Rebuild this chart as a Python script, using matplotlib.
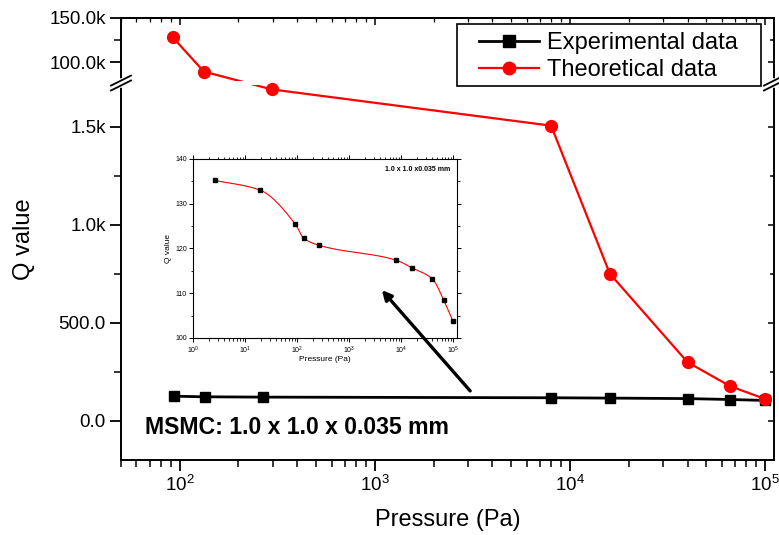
import numpy as np
import matplotlib
matplotlib.use('Agg')
import matplotlib.pyplot as plt
from matplotlib.lines import Line2D
from matplotlib.patches import FancyArrowPatch, Rectangle
from matplotlib.ticker import FixedLocator, FixedFormatter, NullFormatter
from matplotlib.transforms import blended_transform_factory

plt.rcParams['font.family'] = ['Liberation Sans', 'DejaVu Sans']

# ---------------- data ----------------
exp_pressure = [93, 134, 268, 8000, 16000, 40000, 66000, 100000]
exp_q = [125.4, 122.3, 120.7, 117.4, 115.7, 113.2, 108.5, 103.7]
theo_pressure = [92, 133, 296, 8000, 16000, 40000, 66000, 100000]
theo_q = [128300, 89500, 1690, 1505, 750, 299, 177, 111]
inset_pressure = [2.7, 19, 93, 134, 268, 8000, 16000, 40000, 66000, 100000]
inset_q = [135.2, 133.1, 125.4, 122.3, 120.7, 117.4, 115.7, 113.2, 108.5, 103.7]

y_ticks = [0, 500, 1000, 1500, 100000, 150000]
y_tick_labels = ['0.0', '500.0', '1.0k', '1.5k', '100.0k', '150.0k']
y_minor = [250, 750, 1250, 125000]
x_ticks = [1e2, 1e3, 1e4, 1e5]
x_tick_labels = [r'$\mathregular{10^{2}}$', r'$\mathregular{10^{3}}$',
                 r'$\mathregular{10^{4}}$', r'$\mathregular{10^{5}}$']
inset_x_ticks = [1e0, 1e1, 1e2, 1e3, 1e4, 1e5]
inset_x_labels = [r'$\mathregular{10^{%d}}$' % i for i in range(6)]
inset_y_ticks = [100, 110, 120, 130, 140]

# ---------------- broken y scale ----------------
L_TOP = 1710.0
GAP_T = 25.0
U_BOT = 79400.0
K = 0.00452


def fwd(y):
    y = np.asarray(y, dtype=float)
    mid = L_TOP + (y - L_TOP) * GAP_T / (U_BOT - L_TOP)
    up = L_TOP + GAP_T + (y - U_BOT) * K
    return np.where(y <= L_TOP, y, np.where(y >= U_BOT, up, mid))


def inv(t):
    t = np.asarray(t, dtype=float)
    mid = L_TOP + (t - L_TOP) * (U_BOT - L_TOP) / GAP_T
    up = U_BOT + (t - L_TOP - GAP_T) / K
    return np.where(t <= L_TOP, t, np.where(t >= L_TOP + GAP_T, up, mid))


W, H = 779, 535
fig = plt.figure(figsize=(W / 100, H / 100), dpi=100)
L, R, T, B = 121, 774, 18, 460
ax = fig.add_axes([L / W, (H - B) / H, (R - L) / W, (B - T) / H])
ax.set_xscale('log')
ax.set_yscale('function', functions=(fwd, inv))
ax.set_xlim(50, 111000)
ax.set_ylim(-200, 150000)

ax.plot(exp_pressure, exp_q, color='black', lw=2.0, zorder=2)
ax.plot(theo_pressure, theo_q, color='red', lw=1.6, zorder=2)
ax.axhspan(L_TOP, U_BOT, color='white', zorder=2.2, lw=0)
ax.plot(exp_pressure, exp_q, ls='none', marker='s', ms=7, color='black', zorder=3)
ax.plot(theo_pressure, theo_q, ls='none', marker='o', ms=8.5, color='red', zorder=3)

ax.yaxis.set_major_locator(FixedLocator(y_ticks))
ax.yaxis.set_major_formatter(FixedFormatter(y_tick_labels))
ax.yaxis.set_minor_locator(FixedLocator(y_minor))
ax.yaxis.set_minor_formatter(NullFormatter())
ax.xaxis.set_major_locator(FixedLocator(x_ticks))
ax.xaxis.set_major_formatter(FixedFormatter(x_tick_labels))
minors = [m * 10 ** d for d in range(1, 5) for m in range(2, 10)]
ax.xaxis.set_minor_locator(FixedLocator([v for v in minors if 50 <= v <= 111000]))
ax.xaxis.set_minor_formatter(NullFormatter())

for s in ax.spines.values():
    s.set_linewidth(1.4)
ax.tick_params(which='major', direction='out', length=8, width=1.3, labelsize=13.5,
               top=False, right=False, pad=3)
ax.tick_params(which='minor', direction='out', length=5, width=1.1, top=False, right=False)
# mirrored inward ticks on top and right
ax_top = ax.secondary_xaxis('top')
ax_top.set_xticks(x_ticks)
ax_top.xaxis.set_minor_locator(FixedLocator([v for v in minors if 50 <= v <= 111000]))
ax_top.tick_params(which='major', direction='in', length=5, width=1.1, labeltop=False)
ax_top.tick_params(which='minor', direction='in', length=3, width=0.9)
ax_top.xaxis.set_major_formatter(NullFormatter())
ax_top.xaxis.set_minor_formatter(NullFormatter())
ax_top.spines['top'].set_linewidth(1.4)

ax.set_xlabel('Pressure (Pa)', fontsize=17, labelpad=10)
ax.set_ylabel('Q value', fontsize=17, labelpad=10)

# right axis ticks (inward)
for yv, ln in [(v, 6) for v in y_ticks] + [(v, 4) for v in y_minor]:
    ax.plot([1], [yv], transform=blended_transform_factory(ax.transAxes, ax.transData),
            marker=[(0, 0), (-1, 0)], ms=ln * 0.72 * 2, mew=1.1, color='black',
            clip_on=False, zorder=5, ls='none')

# legend: frame drawn separately for the wide padding of the original
frame = Rectangle((457 / W, (H - 86) / H), 304 / W, 62 / H, transform=fig.transFigure,
                  facecolor='white', edgecolor='black', lw=1.2, zorder=4, clip_on=False)
ax.add_artist(frame)
handles = [Line2D([], [], color='black', lw=2.0, marker='s', ms=8),
           Line2D([], [], color='red', lw=1.6, marker='o', ms=9)]
leg = ax.legend(handles, ['Experimental data', 'Theoretical data'],
                loc='upper left', bbox_to_anchor=((479 - L) / (R - L), (B - 32) / (B - T)),
                fontsize=17, frameon=False,
                handlelength=2.55, labelspacing=0.22, borderpad=0, handletextpad=0.35,
                borderaxespad=0)
leg.set_zorder(5)

ax.text((145 - L) / (R - L), (B - 428) / (B - T), 'MSMC: 1.0 x 1.0 x 0.035 mm',
        transform=ax.transAxes, fontsize=16.6, fontweight='bold', va='center', ha='left')

# break marks
bt = blended_transform_factory(ax.transAxes, ax.transData)
inv_fig = fig.transFigure.inverted()
for xa in (0, 1):
    xlo, ylo = bt.transform((xa, L_TOP))
    _, yhi = bt.transform((xa, U_BOT))
    p1 = inv_fig.transform((xlo, ylo))
    p2 = inv_fig.transform((xlo, yhi))
    fig.add_artist(Line2D([p1[0], p2[0]], [p1[1], p2[1]], color='white', lw=4,
                          transform=fig.transFigure, zorder=10))
    for yd in (ylo, yhi):
        a = inv_fig.transform((xlo - 10, yd - 5))
        b = inv_fig.transform((xlo + 10, yd + 5))
        fig.add_artist(Line2D([a[0], b[0]], [a[1], b[1]], color='black', lw=1.3,
                              transform=fig.transFigure, zorder=11))

# ---------------- inset ----------------
iL, iR, iT, iB = 193, 457, 159, 338
axi = fig.add_axes([iL / W, (H - iB) / H, (iR - iL) / W, (iB - iT) / H])
axi.set_xscale('log')
axi.set_xlim(1, 1.19e5)
axi.set_ylim(100, 140)

# smooth monotone curve (PCHIP in log-pressure) through inset data
lx = np.log10(inset_pressure)
yv = np.asarray(inset_q, dtype=float)
h = np.diff(lx)
dlt = np.diff(yv) / h
m = np.zeros_like(yv)
m[0], m[-1] = dlt[0], dlt[-1]
for i in range(1, len(yv) - 1):
    if dlt[i - 1] * dlt[i] > 0:
        w1 = 2 * h[i] + h[i - 1]
        w2 = h[i] + 2 * h[i - 1]
        m[i] = (w1 + w2) / (w1 / dlt[i - 1] + w2 / dlt[i])
xs, ys = [], []
for i in range(len(h)):
    tt = np.linspace(0, 1, 40)
    h00 = 2 * tt**3 - 3 * tt**2 + 1
    h10 = tt**3 - 2 * tt**2 + tt
    h01 = -2 * tt**3 + 3 * tt**2
    h11 = tt**3 - tt**2
    xs.extend(lx[i] + tt * h[i])
    ys.extend(h00 * yv[i] + h10 * h[i] * m[i] + h01 * yv[i + 1] + h11 * h[i] * m[i + 1])
axi.plot(10 ** np.array(xs), ys, color='red', lw=0.8)
axi.plot(inset_pressure, inset_q, ls='none', marker='s', ms=3.2, color='black')

axi.xaxis.set_major_locator(FixedLocator(inset_x_ticks))
axi.xaxis.set_major_formatter(FixedFormatter(inset_x_labels))
imin = [mm * 10 ** d for d in range(0, 5) for mm in range(2, 10)]
axi.xaxis.set_minor_locator(FixedLocator(imin))
axi.xaxis.set_minor_formatter(NullFormatter())
axi.yaxis.set_major_locator(FixedLocator(inset_y_ticks))
axi.yaxis.set_minor_locator(FixedLocator([105, 115, 125, 135]))
axi.yaxis.set_minor_formatter(NullFormatter())
axi.tick_params(which='major', direction='out', length=3, width=0.7, labelsize=5, pad=1.5)
axi.tick_params(which='minor', direction='out', length=1.8, width=0.6)
axi.tick_params(which='both', top=True, right=True)
for s in axi.spines.values():
    s.set_linewidth(0.8)
axi.set_xlabel('Pressure (Pa)', fontsize=6, labelpad=0.5)
axi.set_ylabel('Q value', fontsize=6, labelpad=2)
axi.text(0.975, 0.94, '1.0 x 1.0 x0.035 mm', transform=axi.transAxes, fontsize=5,
         fontweight='bold', ha='right', va='center')

# arrow (on top of the inset)
p_head = inv_fig.transform(ax.transAxes.transform(((380 - L) / (R - L), (B - 288) / (B - T))))
p_tail = inv_fig.transform(ax.transAxes.transform(((472 - L) / (R - L), (B - 393) / (B - T))))
arr = FancyArrowPatch(p_tail, p_head, transform=fig.transFigure, arrowstyle='-|>',
                      mutation_scale=14, lw=2.4, color='black', zorder=12)
fig.add_artist(arr)

fig.savefig('out.png', dpi=100)
